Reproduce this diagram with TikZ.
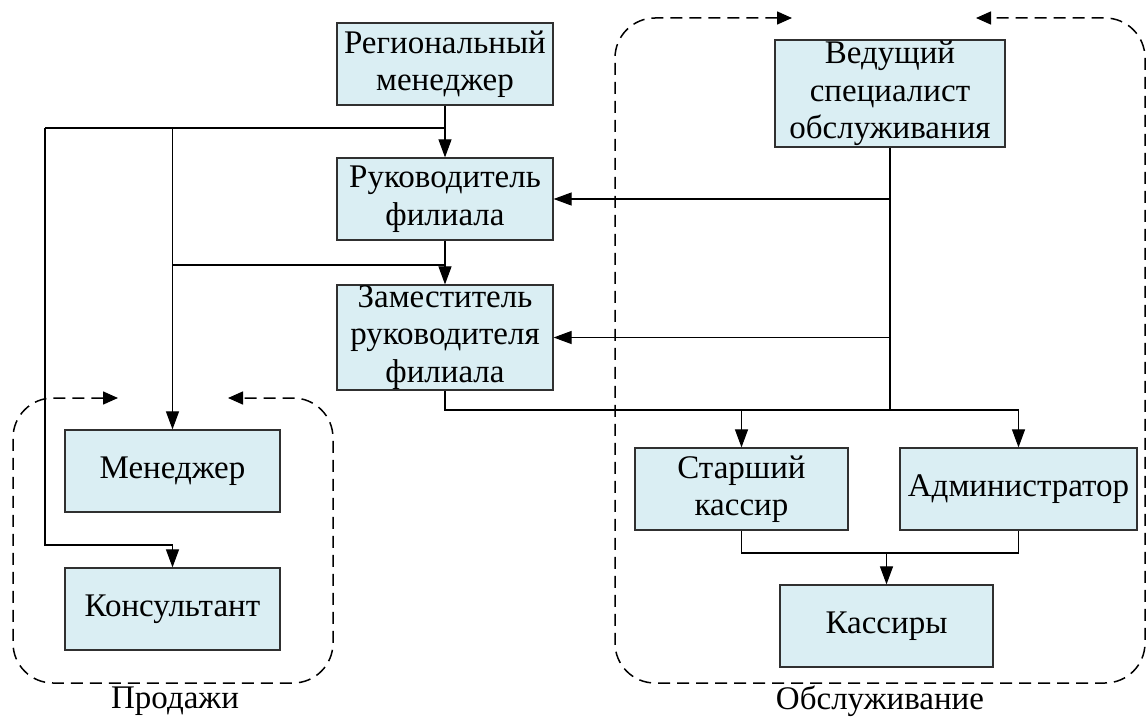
\documentclass[tikz,border=0pt]{standalone}
\usepackage{fontspec}
\setmainfont{Liberation Serif}
\usetikzlibrary{arrows.meta}
\definecolor{boxfill}{HTML}{DAEEF3}
\definecolor{boxline}{HTML}{303030}
\tikzset{
  box/.style={draw=boxline, fill=boxfill, line width=1.2pt, align=center, inner sep=0pt,
    font=\fontsize{33}{37.5}\selectfont},
  conn/.style={line width=1.1pt, draw=black},
  arr/.style={conn, -{Triangle[length=18pt,width=13pt]}},
  grp/.style={line width=1.5pt, dash pattern=on 12pt off 7pt, rounded corners=40pt,
    {Triangle[length=15pt,width=13pt]}-{Triangle[length=15pt,width=13pt]}},
  grplabel/.style={font=\fontsize{33}{37.5}\selectfont, inner sep=0pt}
}
\begin{document}
\begin{tikzpicture}[x=1pt,y=-1pt]
\useasboundingbox (0,0) rectangle (1148,717);
% nodes
\node[box, minimum width=216pt, minimum height=82pt] (reg) at (445,64) {Региональный\\менеджер};
\node[box, minimum width=216pt, minimum height=82pt] (ruk) at (445,199) {Руководитель\\филиала};
\node[box, minimum width=216pt, minimum height=105pt] (zam) at (445,337.5) {Заместитель\\руководителя\\филиала};
\node[box, minimum width=230pt, minimum height=107pt] (ved) at (890,93.5) {Ведущий\\специалист\\обслуживания};
\node[box, minimum width=215pt, minimum height=82pt] (men) at (172.5,471) {Менеджер};
\node[box, minimum width=215pt, minimum height=82pt] (kons) at (172.5,609) {Консультант};
\node[box, minimum width=213pt, minimum height=82pt] (stk) at (741.5,489) {Старший\\кассир};
\node[box, minimum width=237pt, minimum height=82pt] (adm) at (1018.5,489) {Администратор};
\node[box, minimum width=213pt, minimum height=82pt] (kas) at (886.5,626) {Кассиры};
% group containers
\draw[grp] (118,398) -- (13,398) -- (13,683) -- (333,683) -- (333,398) -- (228,398);
\draw[grp] (792,18) -- (615,18) -- (615,683) -- (1145,683) -- (1145,18) -- (976,18);
\node[grplabel] (lprod) at (175,701) {Продажи};
\node[grplabel] (lobs) at (880,701) {Обслуживание};
% junction coordinates
\coordinate (j1) at (445,128);
\coordinate (jl) at (45,128);
\coordinate (k1) at (45,545);
\coordinate (j2) at (445,265);
\coordinate (j4) at (445,410);
\coordinate (j5) at (886.5,553);
% connectors
\draw[arr] (reg) -- (ruk);
\draw[conn] (j1) -- (jl);
\draw[arr] (jl) -- (k1) -| (kons.north);
\draw[arr] (j1 -| men.north) -- (men.north);
\draw[arr] (ruk) -- (zam);
\draw[conn] (j2) -- (j2 -| men.north);
\draw[conn] (ved.south) -- (ved.south |- j4);
\draw[arr] (ved.south |- ruk.east) -- (ruk.east);
\draw[arr] (ved.south |- zam.east) -- (zam.east);
\draw[conn] (zam.south) -- (j4) -- (j4 -| adm.north);
\draw[arr] (j4 -| stk.north) -- (stk.north);
\draw[arr] (j4 -| adm.north) -- (adm.north);
\draw[conn] (stk.south) -- (stk.south |- j5) -- (adm.south |- j5) -- (adm.south);
\draw[arr] (j5) -- (kas.north);
\end{tikzpicture}
\end{document}
